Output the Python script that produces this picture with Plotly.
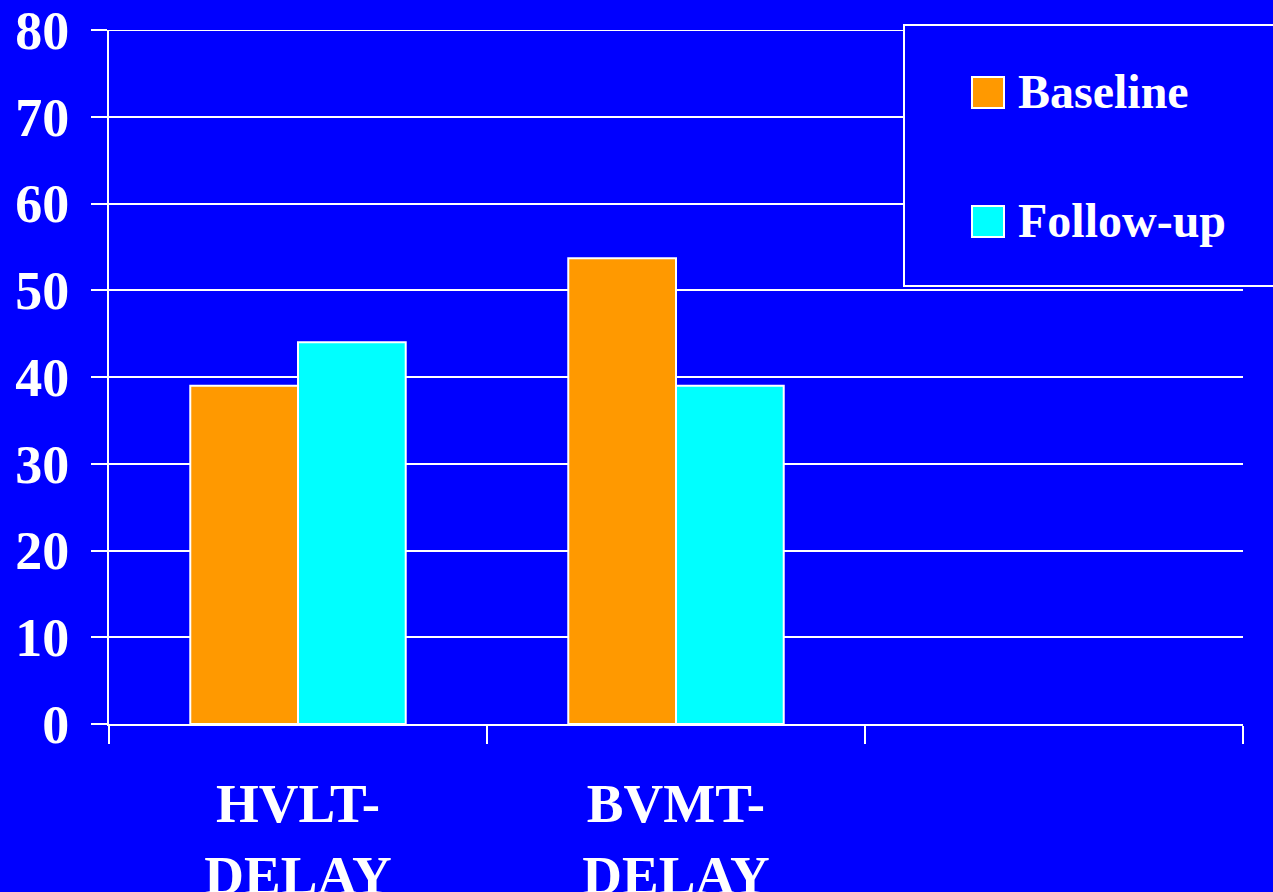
import plotly.graph_objects as go

categories = ["HVLT-<br>DELAY", "BVMT-<br>DELAY", " "]
series_names = ["Baseline", "Follow-up"]
baseline = [39, 53.7, None]
follow_up = [44, 39, None]
y_ticks = [0, 10, 20, 30, 40, 50, 60, 70, 80]

BG = "#0000FF"
ORANGE = "#FF9900"
CYAN = "#00FFFF"
WHITE = "#FFFFFF"
FONT = "Liberation Serif"

W, H = 1273, 892
L, R, T, B = 109, 30, 30, 168
PW, PH = W - L - R, H - T - B


def px(x):
    return (x - L) / PW


def py(y):
    return (H - B - y) / PH


fig = go.Figure()
for name, vals, col in [(series_names[0], baseline, ORANGE), (series_names[1], follow_up, CYAN)]:
    fig.add_trace(go.Bar(
        x=categories, y=vals, name=name,
        marker=dict(color=col, line=dict(color=WHITE, width=2)),
        showlegend=False,
    ))

fig.update_layout(
    width=W, height=H,
    margin=dict(l=L, r=R, t=T, b=B, pad=0, autoexpand=False),
    paper_bgcolor=BG, plot_bgcolor=BG,
    barmode="group", bargap=0.43, bargroupgap=0,
    font=dict(family=FONT, color=WHITE, size=50, weight="bold"),
    xaxis=dict(
        type="category", tickson="boundaries", ticks="outside", ticklen=18,
        tickwidth=2, tickcolor=WHITE, showline=True, linecolor=WHITE, linewidth=2,
        showgrid=False, range=[-0.5, 2.5], automargin=False,
        tickfont=dict(family=FONT, size=55, color=WHITE, weight="bold"),
        ticklabelstandoff=30,
    ),
    yaxis=dict(
        range=[0, 80], tickvals=y_ticks, ticks="outside", ticklen=16,
        tickwidth=2, tickcolor=WHITE, showline=True, linecolor=WHITE, linewidth=2,
        showgrid=True, gridcolor=WHITE, gridwidth=2, zeroline=False, automargin=False,
        tickfont=dict(family=FONT, size=54, color=WHITE, weight="bold"),
        ticklabelstandoff=11,
    ),
)

# top gridline at the range edge
fig.add_shape(type="line", xref="paper", yref="y", x0=0, x1=1, y0=y_ticks[-1], y1=y_ticks[-1],
              line=dict(color=WHITE, width=2), layer="below")

# Manual legend box
fig.add_shape(type="rect", xref="paper", yref="paper",
              x0=px(904), x1=px(1290), y0=py(25), y1=py(286),
              line=dict(color=WHITE, width=2), fillcolor=BG, layer="above")
legend_rows = [(series_names[0], ORANGE, 77, 108), (series_names[1], CYAN, 206, 237)]
for name, col, y0, y1 in legend_rows:
    fig.add_shape(type="rect", xref="paper", yref="paper",
                  x0=px(972), x1=px(1004), y0=py(y0), y1=py(y1),
                  line=dict(color=WHITE, width=2), fillcolor=col, layer="above")
    fig.add_annotation(xref="paper", yref="paper", x=px(1016), y=py((y0 + y1) / 2 - 1),
                       text=name, showarrow=False, xanchor="left", yanchor="middle",
                       font=dict(family=FONT, size=48, color=WHITE, weight="bold"))

fig.write_html("out.html")
